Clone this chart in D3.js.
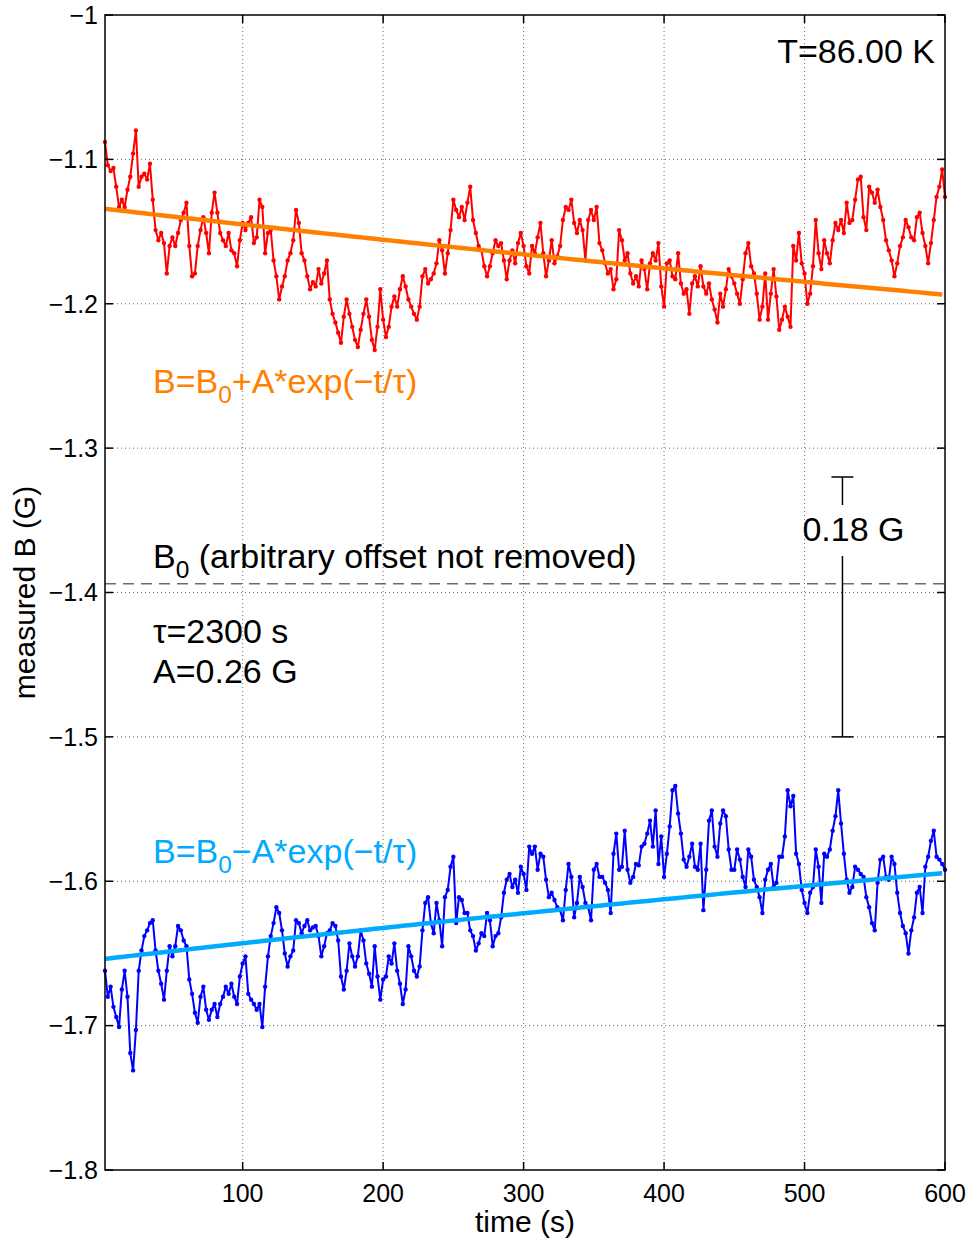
<!DOCTYPE html>
<html lang="en">
<head>
<meta charset="UTF-8">
<title>Measured B relaxation, T=86.00 K</title>
<script src="https://cdnjs.cloudflare.com/ajax/libs/d3/7.8.5/d3.min.js"></script>
<style>
  body { margin: 0; background: #fff; }
  svg { display: block; font-family: 'Liberation Sans', Arial, Helvetica, sans-serif; }
  .grid line { stroke: #6e6e6e; stroke-width: 1; stroke-dasharray: 1,3; }
  .tick-label { font-size: 25px; fill: #000; }
  .axis-title { font-size: 30px; fill: #000; }
  .note { font-size: 34px; }
</style>
</head>
<body>
<svg id="chart" width="969" height="1242"></svg>
<script>
// axis ticks
const xTicks = [100, 200, 300, 400, 500, 600];
const xTickLabels = ['100', '200', '300', '400', '500', '600'];
const yTicks = [-1, -1.1, -1.2, -1.3, -1.4, -1.5, -1.6, -1.7, -1.8];
const yTickLabels = ['\u22121', '\u22121.1', '\u22121.2', '\u22121.3', '\u22121.4', '\u22121.5', '\u22121.6', '\u22121.7', '\u22121.8'];

// samples every 2 s, from t = 2 s to 600 s
const tStart = 2, tStep = 2;

// field measured after the positive step (G)
const redB = [
  -1.088,-1.104,-1.108,-1.106,-1.119,-1.133,-1.128,-1.133,-1.121,-1.112,
  -1.096,-1.080,-1.119,-1.112,-1.110,-1.114,-1.103,-1.128,-1.149,-1.156,
  -1.151,-1.158,-1.179,-1.160,-1.154,-1.160,-1.151,-1.142,-1.137,-1.130,
  -1.160,-1.181,-1.179,-1.160,-1.149,-1.140,-1.151,-1.165,-1.137,-1.123,
  -1.137,-1.151,-1.156,-1.160,-1.151,-1.163,-1.165,-1.174,-1.156,-1.144,
  -1.149,-1.144,-1.140,-1.158,-1.154,-1.128,-1.133,-1.165,-1.151,-1.149,
  -1.170,-1.181,-1.197,-1.188,-1.181,-1.170,-1.165,-1.156,-1.135,-1.144,
  -1.165,-1.170,-1.181,-1.190,-1.185,-1.188,-1.176,-1.186,-1.179,-1.170,
  -1.197,-1.207,-1.213,-1.220,-1.227,-1.209,-1.197,-1.207,-1.216,-1.225,
  -1.230,-1.218,-1.207,-1.197,-1.209,-1.225,-1.232,-1.216,-1.190,-1.211,
  -1.223,-1.216,-1.202,-1.195,-1.202,-1.190,-1.181,-1.188,-1.197,-1.202,
  -1.207,-1.211,-1.202,-1.181,-1.176,-1.186,-1.183,-1.179,-1.172,-1.156,
  -1.163,-1.179,-1.165,-1.149,-1.128,-1.135,-1.140,-1.133,-1.142,-1.130,
  -1.119,-1.142,-1.151,-1.160,-1.163,-1.174,-1.181,-1.174,-1.165,-1.156,
  -1.160,-1.158,-1.170,-1.183,-1.170,-1.163,-1.172,-1.158,-1.151,-1.160,
  -1.174,-1.179,-1.160,-1.165,-1.154,-1.144,-1.165,-1.181,-1.170,-1.156,
  -1.172,-1.167,-1.160,-1.142,-1.133,-1.135,-1.128,-1.144,-1.151,-1.142,
  -1.149,-1.170,-1.142,-1.135,-1.142,-1.133,-1.158,-1.163,-1.172,-1.179,
  -1.176,-1.190,-1.183,-1.149,-1.156,-1.170,-1.165,-1.179,-1.186,-1.181,
  -1.188,-1.170,-1.176,-1.190,-1.172,-1.165,-1.170,-1.158,-1.188,-1.202,
  -1.172,-1.170,-1.181,-1.183,-1.165,-1.186,-1.193,-1.190,-1.207,-1.186,
  -1.181,-1.188,-1.174,-1.188,-1.193,-1.186,-1.197,-1.204,-1.213,-1.193,
  -1.202,-1.190,-1.176,-1.181,-1.186,-1.193,-1.200,-1.183,-1.165,-1.158,
  -1.174,-1.179,-1.193,-1.211,-1.202,-1.179,-1.211,-1.193,-1.176,-1.195,
  -1.218,-1.211,-1.202,-1.209,-1.216,-1.160,-1.170,-1.151,-1.172,-1.179,
  -1.200,-1.193,-1.174,-1.142,-1.165,-1.176,-1.156,-1.165,-1.172,-1.156,
  -1.144,-1.149,-1.142,-1.151,-1.130,-1.144,-1.142,-1.128,-1.114,-1.112,
  -1.140,-1.149,-1.119,-1.123,-1.130,-1.121,-1.133,-1.142,-1.156,-1.163,
  -1.170,-1.181,-1.172,-1.160,-1.154,-1.142,-1.147,-1.154,-1.156,-1.140,
  -1.137,-1.151,-1.160,-1.172,-1.158,-1.142,-1.126,-1.119,-1.107,-1.126
];

// field measured after the negative step (G)
const blueB = [
  -1.662,-1.680,-1.673,-1.687,-1.694,-1.701,-1.675,-1.662,-1.680,-1.719,
  -1.731,-1.703,-1.662,-1.648,-1.638,-1.634,-1.629,-1.627,-1.648,-1.662,
  -1.671,-1.682,-1.662,-1.645,-1.652,-1.645,-1.631,-1.634,-1.641,-1.645,
  -1.668,-1.678,-1.691,-1.698,-1.680,-1.673,-1.689,-1.696,-1.689,-1.685,
  -1.694,-1.685,-1.680,-1.673,-1.678,-1.671,-1.680,-1.685,-1.666,-1.657,
  -1.652,-1.678,-1.682,-1.685,-1.689,-1.685,-1.701,-1.673,-1.652,-1.638,
  -1.629,-1.618,-1.622,-1.634,-1.650,-1.659,-1.652,-1.648,-1.627,-1.629,
  -1.636,-1.631,-1.627,-1.634,-1.632,-1.631,-1.638,-1.652,-1.645,-1.636,
  -1.634,-1.629,-1.631,-1.641,-1.666,-1.675,-1.662,-1.643,-1.652,-1.659,
  -1.652,-1.634,-1.641,-1.657,-1.664,-1.673,-1.645,-1.666,-1.682,-1.668,
  -1.666,-1.652,-1.657,-1.643,-1.662,-1.671,-1.685,-1.675,-1.645,-1.652,
  -1.662,-1.666,-1.659,-1.634,-1.615,-1.611,-1.629,-1.636,-1.615,-1.627,
  -1.645,-1.611,-1.606,-1.590,-1.583,-1.629,-1.611,-1.613,-1.622,-1.622,
  -1.634,-1.638,-1.648,-1.643,-1.636,-1.638,-1.622,-1.627,-1.645,-1.638,
  -1.636,-1.625,-1.608,-1.599,-1.595,-1.604,-1.599,-1.608,-1.590,-1.595,
  -1.606,-1.576,-1.581,-1.576,-1.592,-1.581,-1.583,-1.599,-1.611,-1.608,
  -1.613,-1.618,-1.620,-1.627,-1.606,-1.588,-1.597,-1.625,-1.615,-1.597,
  -1.604,-1.615,-1.618,-1.627,-1.592,-1.588,-1.597,-1.597,-1.601,-1.606,
  -1.622,-1.581,-1.567,-1.592,-1.590,-1.565,-1.592,-1.601,-1.597,-1.588,
  -1.589,-1.576,-1.574,-1.567,-1.558,-1.576,-1.551,-1.588,-1.569,-1.597,
  -1.581,-1.562,-1.537,-1.534,-1.553,-1.567,-1.585,-1.590,-1.583,-1.574,
  -1.590,-1.592,-1.574,-1.620,-1.592,-1.558,-1.551,-1.576,-1.583,-1.560,
  -1.551,-1.555,-1.578,-1.592,-1.592,-1.578,-1.585,-1.597,-1.604,-1.578,
  -1.583,-1.599,-1.604,-1.611,-1.622,-1.599,-1.592,-1.588,-1.604,-1.601,
  -1.583,-1.583,-1.569,-1.537,-1.548,-1.541,-1.581,-1.588,-1.606,-1.615,
  -1.622,-1.608,-1.604,-1.578,-1.590,-1.615,-1.581,-1.583,-1.578,-1.565,
  -1.555,-1.537,-1.560,-1.581,-1.599,-1.608,-1.604,-1.590,-1.592,-1.595,
  -1.597,-1.611,-1.618,-1.629,-1.634,-1.601,-1.585,-1.583,-1.597,-1.599,
  -1.583,-1.588,-1.608,-1.622,-1.631,-1.636,-1.650,-1.634,-1.625,-1.608,
  -1.604,-1.622,-1.590,-1.583,-1.572,-1.565,-1.583,-1.585,-1.588,-1.592
];

// fit parameters: B = B0 +/- A*exp(-t/tau)
const B0 = -1.394;
const A = 0.26;
const tau = 2300;
const T = '86.00';
// offset bar drawn between the two levels
const barValue = 0.18;
const barBottom = -1.5;
const barTime = 527;

const svg = d3.select('#chart');
const pL = 105, pR = 945, pT = 15, pB = 1170;

const x = d3.scaleLinear().domain([2, 600]).range([pL, pR]);
const y = d3.scaleLinear().domain([-1.8, -1]).range([pB, pT]);

// grid
const grid = svg.append('g').attr('class', 'grid');
grid.selectAll('line.gx').data(xTicks.filter(d => d < 600)).enter().append('line')
  .attr('x1', d => x(d)).attr('x2', d => x(d)).attr('y1', pT).attr('y2', pB);
grid.selectAll('line.gy').data(yTicks.filter(d => d > -1.8 && d < -1)).enter().append('line')
  .attr('x1', pL).attr('x2', pR).attr('y1', d => y(d)).attr('y2', d => y(d));

// B0 level
svg.append('line')
  .attr('x1', pL).attr('x2', pR)
  .attr('y1', y(B0)).attr('y2', y(B0))
  .attr('stroke', '#222').attr('stroke-width', 1)
  .attr('stroke-dasharray', '11,7');

const times = redB.map((d, i) => tStart + i * tStep);

// data points over a trace of the same colour, so the record reads as one band
function dots(values, color) {
  const g = svg.append('g');
  g.append('path').datum(values)
    .attr('d', d3.line().x((d, i) => x(times[i])).y(d => y(d)))
    .attr('fill', 'none').attr('stroke', color)
    .attr('stroke-width', 2).attr('stroke-linejoin', 'round');
  g.selectAll('circle').data(values).enter().append('circle')
    .attr('cx', (d, i) => x(times[i]))
    .attr('cy', d => y(d))
    .attr('r', 2.2)
    .attr('fill', color);
}
dots(redB, '#ff0000');
dots(blueB, '#0000ff');

// fit curves
const fitT = d3.range(2, 601, 4);
const fitLine = sign => d3.line()
  .x(d => x(d))
  .y(d => y(B0 + sign * A * Math.exp(-d / tau)));
svg.append('path').datum(fitT).attr('d', fitLine(1))
  .attr('fill', 'none').attr('stroke', '#ff8000').attr('stroke-width', 4.5);
svg.append('path').datum(fitT).attr('d', fitLine(-1))
  .attr('fill', 'none').attr('stroke', '#00aaff').attr('stroke-width', 4.5);

// axes box with inward ticks
const axes = svg.append('g').attr('stroke', '#000').attr('stroke-width', 1.5);
axes.append('rect').attr('x', pL).attr('y', pT)
  .attr('width', pR - pL).attr('height', pB - pT).attr('fill', 'none');
const tl = 8;
xTicks.forEach(d => {
  axes.append('line').attr('x1', x(d)).attr('x2', x(d)).attr('y1', pB).attr('y2', pB - tl);
  axes.append('line').attr('x1', x(d)).attr('x2', x(d)).attr('y1', pT).attr('y2', pT + tl);
});
yTicks.forEach(d => {
  axes.append('line').attr('x1', pL).attr('x2', pL + tl).attr('y1', y(d)).attr('y2', y(d));
  axes.append('line').attr('x1', pR).attr('x2', pR - tl).attr('y1', y(d)).attr('y2', y(d));
});

// tick labels
svg.append('g').selectAll('text').data(xTicks).enter().append('text')
  .attr('class', 'tick-label')
  .attr('x', d => x(d)).attr('y', pB + 32)
  .attr('text-anchor', 'middle')
  .text((d, i) => xTickLabels[i]);
svg.append('g').selectAll('text').data(yTicks).enter().append('text')
  .attr('class', 'tick-label')
  .attr('x', pL - 7).attr('y', d => y(d)).attr('dy', '0.35em')
  .attr('text-anchor', 'end')
  .text((d, i) => yTickLabels[i]);

// axis titles
svg.append('text').attr('class', 'axis-title')
  .attr('x', (pL + pR) / 2).attr('y', 1232)
  .attr('text-anchor', 'middle').text('time (s)');
svg.append('text').attr('class', 'axis-title')
  .attr('transform', `translate(35,${(pT + pB) / 2}) rotate(-90)`)
  .attr('text-anchor', 'middle').text('measured B (G)');

// annotations
svg.append('text').attr('class', 'note')
  .attr('x', 935).attr('y', 63).attr('text-anchor', 'end')
  .text(`T=${T} K`);

function formula(yPos, sign, color) {
  const t = svg.append('text').attr('class', 'note')
    .attr('x', 153).attr('y', yPos).attr('fill', color);
  t.append('tspan').text('B=B');
  t.append('tspan').attr('font-size', '0.72em').attr('dy', 10).text('0');
  t.append('tspan').attr('dy', -10).text(`${sign}A*exp(\u2212t/\u03c4)`);
}
formula(393, '+', '#ff8000');
formula(863, '\u2212', '#00aaff');

const b0Label = svg.append('text').attr('class', 'note').attr('x', 153).attr('y', 568);
b0Label.append('tspan').text('B');
b0Label.append('tspan').attr('font-size', '0.72em').attr('dy', 10).text('0');
b0Label.append('tspan').attr('dy', -10).text(' (arbitrary offset not removed)');

svg.append('text').attr('class', 'note').attr('x', 153).attr('y', 643)
  .text(`\u03c4=${tau} s`);
svg.append('text').attr('class', 'note').attr('x', 153).attr('y', 683)
  .text(`A=${A.toFixed(2)} G`);

// offset bar with label in the gap
const bx = x(barTime);
const bTop = y(barBottom + barValue), bBot = y(barBottom);
const bar = svg.append('g').attr('stroke', '#000').attr('stroke-width', 1.5);
bar.append('line').attr('x1', bx - 11).attr('x2', bx + 11).attr('y1', bTop).attr('y2', bTop);
bar.append('line').attr('x1', bx - 11).attr('x2', bx + 11).attr('y1', bBot).attr('y2', bBot);
bar.append('line').attr('x1', bx).attr('x2', bx).attr('y1', bTop).attr('y2', 505);
bar.append('line').attr('x1', bx).attr('x2', bx).attr('y1', 556).attr('y2', bBot);
svg.append('text').attr('class', 'note')
  .attr('x', bx + 11).attr('y', 541).attr('text-anchor', 'middle')
  .text(`${barValue} G`);
</script>
</body>
</html>
